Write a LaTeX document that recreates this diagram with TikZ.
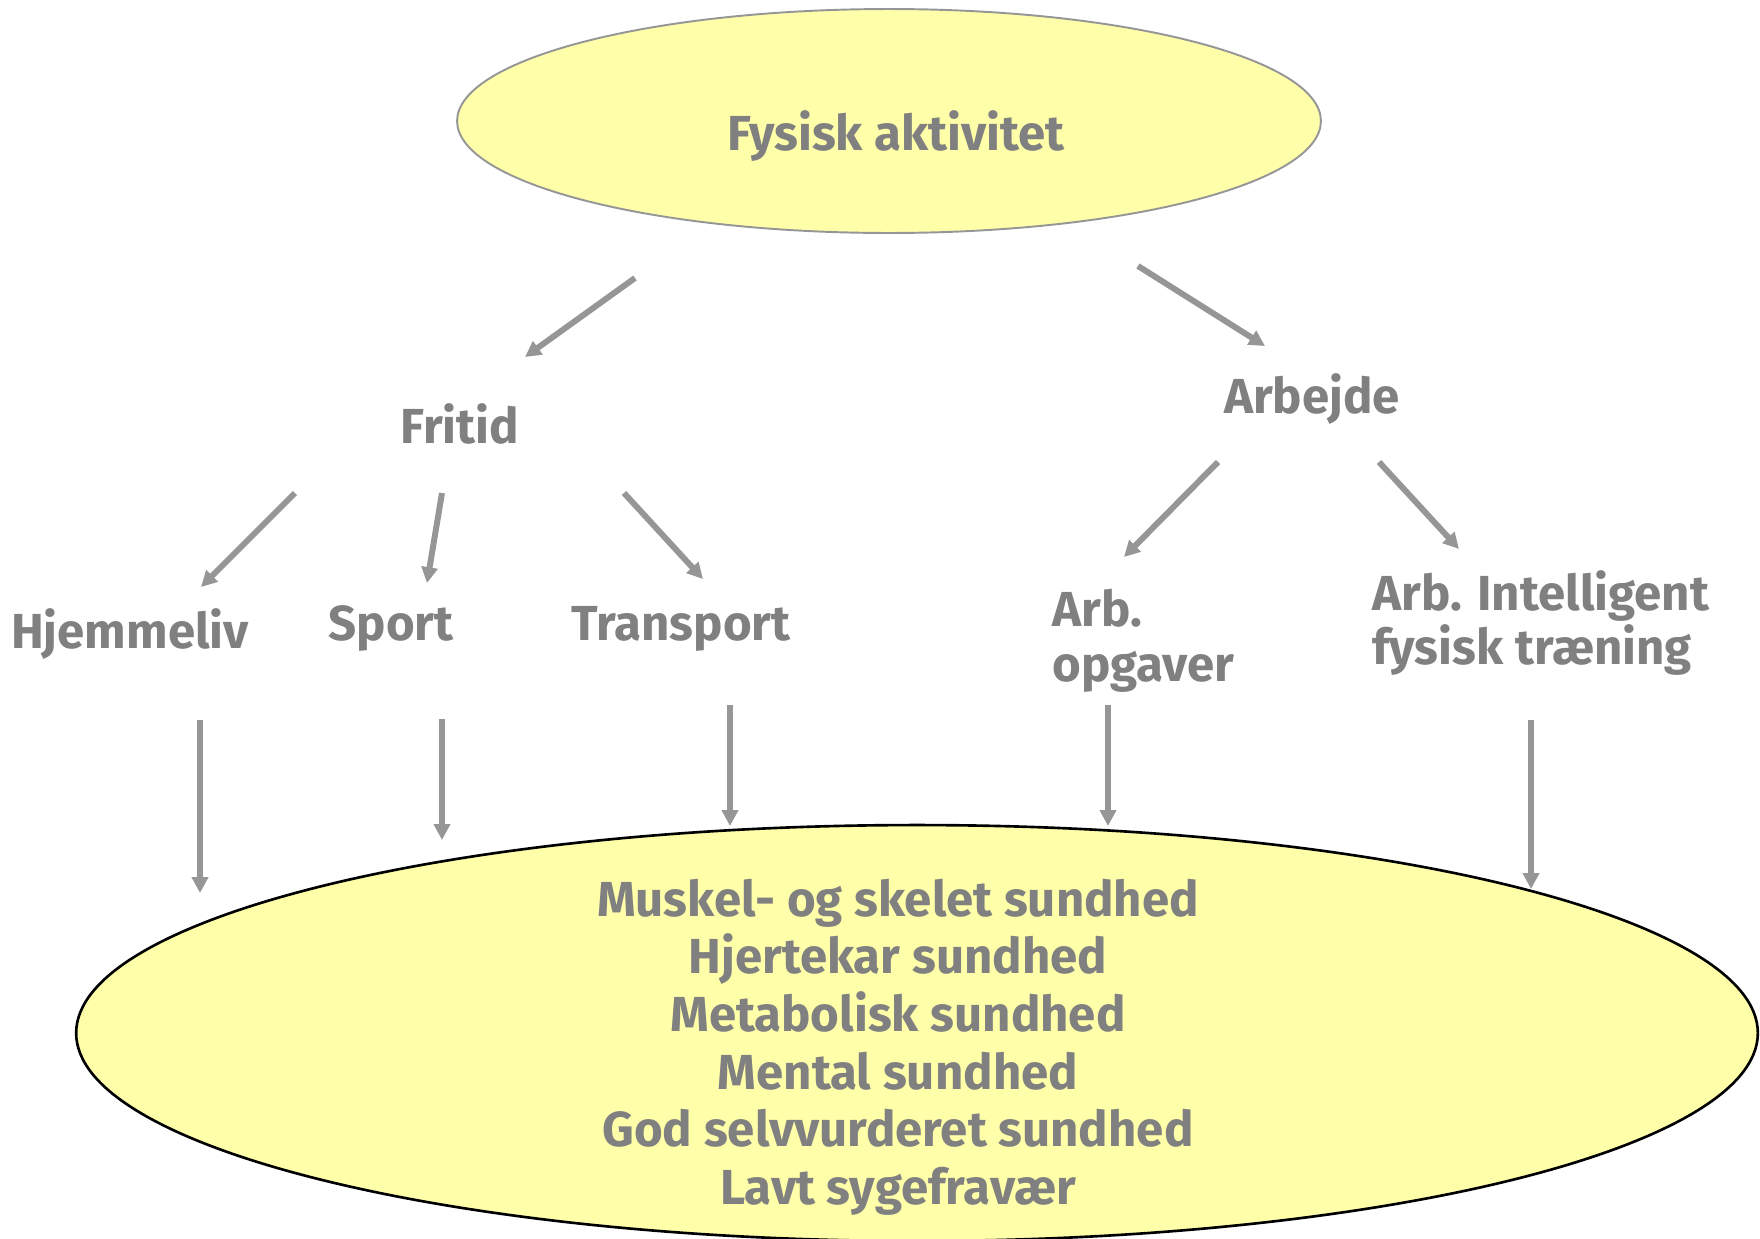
\documentclass[tikz,border=0pt]{standalone}
\usepackage{fontspec}
\setmainfont{Fira Sans}
\usetikzlibrary{shapes.geometric,arrows.meta}
\definecolor{txtgray}{RGB}{128,128,128}
\definecolor{arrgray}{RGB}{150,150,150}
\definecolor{paleyellow}{RGB}{255,255,170}

\begin{document}
\begin{tikzpicture}[x=0.02cm,y=-0.02cm,
  txt/.style={text=txtgray,font=\fontsize{28}{31}\selectfont\bfseries,inner sep=0pt},
  lbl/.style={txt,text height=0.7em,text depth=0.2em},
  arr/.style={draw=arrgray,line width=3.4pt,-{Triangle[length=9pt,width=9pt]}},
  blob/.style={ellipse,fill=paleyellow,inner sep=0pt}]
  \useasboundingbox (0,0) rectangle (1760,1238);

  \node[blob,draw=arrgray,line width=1.1pt,minimum width=17.28cm,minimum height=4.48cm] (aktiv) at (889,121) {};
  \node[lbl] (aktivtxt) at (896,146) {Fysisk aktivitet};
  \node[lbl] (fritid) at (460,439) {Fritid};
  \node[lbl] (arbejde) at (1312,409) {Arbejde};
  \node[lbl] (hjem) at (130,644) {Hjemmeliv};
  \node[lbl] (sport) at (391,636) {Sport};
  \node[lbl] (transp) at (681,636) {Transport};
  \node[txt,align=left,anchor=west] (opg) at (1052,641) {Arb.\\opgaver};
  \node[txt,align=left,anchor=west] (intel) at (1372,623) {Arb. Intelligent\\fysisk træning};
  \node[blob,draw=black,line width=1.5pt,minimum width=33.64cm,minimum height=8.32cm] (sundhed) at (917,1033) {};
  \node[txt,align=center,font=\fontsize{28}{32.8}\selectfont\bfseries] (sundtxt) at (898,1047)
    {Muskel- og skelet sundhed\\Hjertekar sundhed\\Metabolisk sundhed\\Mental sundhed\\God selvvurderet sundhed\\Lavt sygefravær};

  \draw[arr] ([shift={(-254,157)}]aktiv.center) -- ([shift={(65,-82)}]fritid.center);
  \draw[arr] ([shift={(249,145)}]aktiv.center) -- ([shift={(-47,-63)}]arbejde.center);
  \draw[arr] ([shift={(-165,54)}]fritid.center) -- ([shift={(71,-57)}]hjem.center);
  \draw[arr] ([shift={(-18,54)}]fritid.center) -- ([shift={(36,-53)}]sport.center);
  \draw[arr] ([shift={(164,54)}]fritid.center) -- ([shift={(22,-57)}]transp.center);
  \draw[arr] ([shift={(-94,53)}]arbejde.center) -- ([shift={(72,-84)}]opg.west);
  \draw[arr] ([shift={(67,53)}]arbejde.center) -- ([shift={(87,-74)}]intel.west);

  \draw[arr] ([shift={(70,76)}]hjem.center) -- ([shift={(-717,-140)}]sundhed.center);
  \draw[arr] ([shift={(51,83)}]sport.center) -- ([shift={(-475,-193)}]sundhed.center);
  \draw[arr] ([shift={(49,69)}]transp.center) -- ([shift={(-187,-207)}]sundhed.center);
  \draw[arr] ([shift={(56,64)}]opg.west) -- ([shift={(191,-207)}]sundhed.center);
  \draw[arr] ([shift={(159,97)}]intel.west) -- ([shift={(614,-144)}]sundhed.center);
\end{tikzpicture}
\end{document}
